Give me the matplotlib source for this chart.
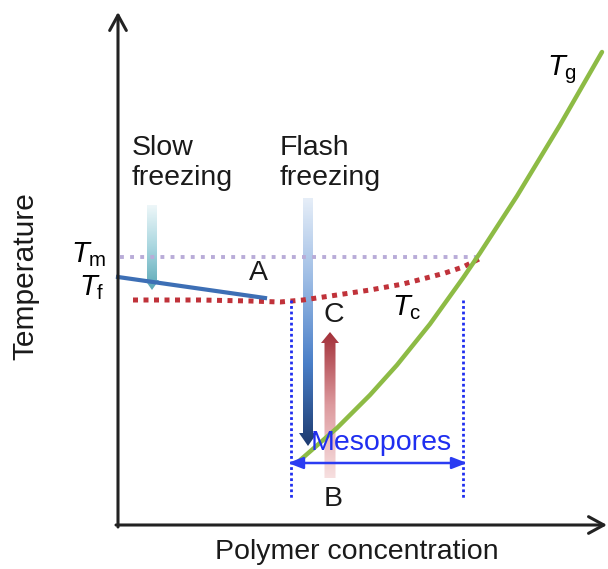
import numpy as np
import matplotlib
matplotlib.use("Agg")
import matplotlib.pyplot as plt
from matplotlib.patches import Polygon
from matplotlib.colors import LinearSegmentedColormap

plt.rcParams['font.family'] = ['Liberation Sans', 'DejaVu Sans']
plt.rcParams['mathtext.fontset'] = 'custom'
plt.rcParams['mathtext.it'] = 'Liberation Sans:italic'
plt.rcParams['mathtext.rm'] = 'Liberation Sans'

# schematic curves (image coordinates: x right, y down)
tm_x = [120, 480]
tm_y = [257, 257]
tc_x = [133, 200, 250, 280, 303, 337, 370, 403, 430, 445, 463, 479]
tc_y = [300, 300, 301, 302, 300, 295, 290, 284, 277, 273, 267, 259]
tg_x = [298, 337, 370, 397, 430, 463, 480, 517, 560, 602]
tg_y = [462, 428, 395, 365, 324, 278, 253, 196, 125, 52]
a_x = [118, 265]
a_y = [277, 298]
meso_x = [291, 463]


def grad_arrow(ax, x, y_tail, y_head, shaft_w, head_w, head_l, colors):
    d = 1 if y_head > y_tail else -1
    y_neck = y_head - d * head_l
    verts = [(x - shaft_w / 2, y_tail), (x - shaft_w / 2, y_neck),
             (x - head_w / 2, y_neck), (x, y_head), (x + head_w / 2, y_neck),
             (x + shaft_w / 2, y_neck), (x + shaft_w / 2, y_tail)]
    poly = Polygon(verts, closed=True, facecolor='none', edgecolor='none')
    ax.add_patch(poly)
    cmap = LinearSegmentedColormap.from_list('g', colors)
    grad = np.linspace(0, 1, 256).reshape(-1, 1)
    im = ax.imshow(grad, cmap=cmap, origin='lower', aspect='auto',
                   extent=(x - head_w / 2, x + head_w / 2, y_tail, y_head))
    im.set_clip_path(poly)


fig = plt.figure(figsize=(6.08, 5.69), dpi=100)
ax = fig.add_axes([0, 0, 1, 1])

# axes with open arrow heads
ax.annotate('', xy=(118, 12), xytext=(118, 527),
            arrowprops=dict(arrowstyle='->,head_length=1.1,head_width=0.6',
                            color='#222222', lw=2.2, shrinkA=0, shrinkB=0))
ax.annotate('', xy=(607, 525), xytext=(116, 525),
            arrowprops=dict(arrowstyle='->,head_length=1.1,head_width=0.6',
                            color='#222222', lw=2.2, shrinkA=0, shrinkB=0))

ax.plot(tm_x, tm_y, color='#b9acd8', lw=2.8, linestyle=(0, (1, 1.6)))
ax.plot(tc_x, tc_y, color='#c0323a', lw=3.6, linestyle=(0, (1, 1.1)))
ax.plot(tg_x, tg_y, color='#8dbb45', lw=3.2, solid_capstyle='round')
ax.plot(a_x, a_y, color='#3d6fb5', lw=3.0)

for mx in meso_x:
    ax.plot([mx, mx], [300, 498], color='#1f2ef0', lw=2.0, linestyle=(0, (1, 1)))

ax.annotate('', xy=(467, 463), xytext=(288, 463),
            arrowprops=dict(arrowstyle='<|-|>,head_length=0.9,head_width=0.35',
                            color='#2b3cf2', lw=1.8, shrinkA=0, shrinkB=0))

grad_arrow(ax, 152, 205, 290, 10, 14, 10, ['#eef7f9', '#a8d6df', '#5aa8b6'])
grad_arrow(ax, 308, 198, 446, 10, 18, 13,
           ['#e6eef8', '#9bbbe4', '#4a7fc8', '#1d3b70'])
grad_arrow(ax, 330, 478, 332, 11, 18, 11, ['#f7e0e0', '#dd9a9e', '#a33039'])

fs = 20.5
ax.text(132, 185, 'Slow\nfreezing', fontsize=fs, ha='left', va='baseline',
        linespacing=1.2, color='#1a1a1a')
ax.text(280, 185, 'Flash\nfreezing', fontsize=fs, ha='left', va='baseline',
        linespacing=1.2, color='#1a1a1a')
ax.text(258, 273, 'A', fontsize=fs, ha='center', va='center', color='#1a1a1a')
ax.text(334, 315, 'C', fontsize=fs, ha='center', va='center', color='#1a1a1a')
ax.text(333, 499, 'B', fontsize=fs, ha='center', va='center', color='#1a1a1a')
ax.text(381, 443, 'Mesopores', fontsize=fs, ha='center', va='center',
        color='#1f2ef0')

ax.text(106, 262, r'$T_\mathrm{m}$', fontsize=21, ha='right', va='baseline')
ax.text(104, 295, r'$T_\mathrm{f}$', fontsize=21, ha='right', va='baseline')
ax.text(392, 315, r'$T_\mathrm{c}$', fontsize=21, ha='left', va='baseline')
ax.text(547, 75, r'$T_\mathrm{g}$', fontsize=21, ha='left', va='baseline')

ax.text(25, 276, 'Temperature', fontsize=21.5, rotation=90, ha='center',
        va='center', color='#1a1a1a')
ax.text(357, 552, 'Polymer concentration', fontsize=fs, ha='center',
        va='center', color='#1a1a1a')

ax.set_xlim(0, 608)
ax.set_ylim(569, 0)
ax.axis('off')
fig.savefig('out.png', dpi=100)
